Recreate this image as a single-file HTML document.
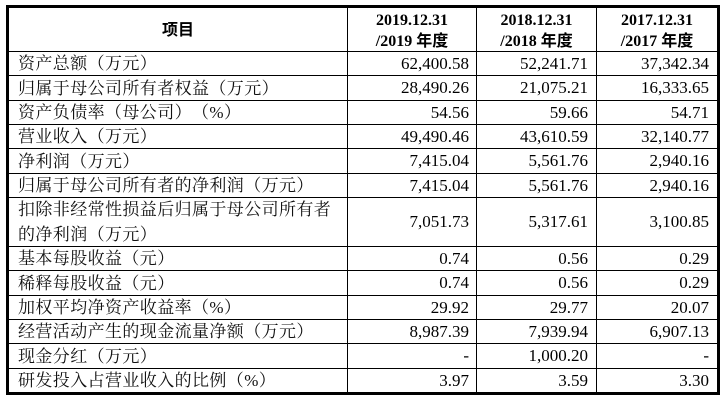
<!DOCTYPE html>
<html>
<head>
<meta charset="utf-8">
<style>
  html,body{margin:0;padding:0;background:#fff;}
  body{width:728px;height:403px;position:relative;overflow:hidden;}
  .box{position:absolute;left:6px;top:5px;width:708px;height:384px;border:3px solid #000;}
  .h{position:absolute;left:9px;width:708px;height:1px;background:#000;}
  .v{position:absolute;top:8px;height:384px;width:1px;background:#000;}
  .lab{position:absolute;left:18px;width:328px;display:flex;align-items:center;
       font-family:"Liberation Serif","Noto Serif CJK SC",serif;font-size:17px;letter-spacing:0.4px;color:#111;white-space:nowrap;line-height:25px;
       text-spacing-trim:space-all;}
  .num{position:absolute;display:flex;align-items:center;justify-content:flex-end;
       font-family:"Liberation Serif","Noto Serif CJK SC",serif;font-size:17px;color:#000;white-space:nowrap;}
  .c2{left:348px;width:121px;}
  .c3{left:477px;width:111px;}
  .c4{left:597px;width:112px;}
  .hd{position:absolute;top:8px;height:43px;display:flex;flex-direction:column;align-items:center;justify-content:center;
      font-family:"Liberation Serif","Noto Sans CJK SC",sans-serif;font-weight:bold;font-size:16px;line-height:21px;color:#000;white-space:nowrap;padding-top:2px;box-sizing:border-box;}
</style>
</head>
<body>
<div class="box"></div>

<div class="v" style="left:347px"></div>
<div class="v" style="left:476px"></div>
<div class="v" style="left:596px"></div>

<div class="h" style="top:51px"></div>
<div class="h" style="top:75px"></div>
<div class="h" style="top:100px"></div>
<div class="h" style="top:124px"></div>
<div class="h" style="top:148px"></div>
<div class="h" style="top:173px"></div>
<div class="h" style="top:197px"></div>
<div class="h" style="top:246px"></div>
<div class="h" style="top:270px"></div>
<div class="h" style="top:295px"></div>
<div class="h" style="top:319px"></div>
<div class="h" style="top:343px"></div>
<div class="h" style="top:368px"></div>

<div class="hd" style="left:9px;width:338px;">项目</div>
<div class="hd" style="left:348px;width:128px;"><div>2019.12.31</div><div>/2019 年度</div></div>
<div class="hd" style="left:477px;width:119px;"><div>2018.12.31</div><div>/2018 年度</div></div>
<div class="hd" style="left:597px;width:120px;"><div>2017.12.31</div><div>/2017 年度</div></div>

<div class="lab" style="top:52px;height:23px;">资产总额（万元）</div>
<div class="num c2" style="top:52px;height:23px;">62,400.58</div>
<div class="num c3" style="top:52px;height:23px;">52,241.71</div>
<div class="num c4" style="top:52px;height:23px;">37,342.34</div>

<div class="lab" style="top:76px;height:24px;">归属于母公司所有者权益（万元）</div>
<div class="num c2" style="top:76px;height:24px;">28,490.26</div>
<div class="num c3" style="top:76px;height:24px;">21,075.21</div>
<div class="num c4" style="top:76px;height:24px;">16,333.65</div>

<div class="lab" style="top:101px;height:23px;">资产负债率（母公司）（%）</div>
<div class="num c2" style="top:101px;height:23px;">54.56</div>
<div class="num c3" style="top:101px;height:23px;">59.66</div>
<div class="num c4" style="top:101px;height:23px;">54.71</div>

<div class="lab" style="top:125px;height:23px;">营业收入（万元）</div>
<div class="num c2" style="top:125px;height:23px;">49,490.46</div>
<div class="num c3" style="top:125px;height:23px;">43,610.59</div>
<div class="num c4" style="top:125px;height:23px;">32,140.77</div>

<div class="lab" style="top:149px;height:24px;">净利润（万元）</div>
<div class="num c2" style="top:149px;height:24px;">7,415.04</div>
<div class="num c3" style="top:149px;height:24px;">5,561.76</div>
<div class="num c4" style="top:149px;height:24px;">2,940.16</div>

<div class="lab" style="top:174px;height:23px;">归属于母公司所有者的净利润（万元）</div>
<div class="num c2" style="top:174px;height:23px;">7,415.04</div>
<div class="num c3" style="top:174px;height:23px;">5,561.76</div>
<div class="num c4" style="top:174px;height:23px;">2,940.16</div>

<div class="lab" style="top:198px;height:48px;">扣除非经常性损益后归属于母公司所有者<br>的净利润（万元）</div>
<div class="num c2" style="top:198px;height:48px;">7,051.73</div>
<div class="num c3" style="top:198px;height:48px;">5,317.61</div>
<div class="num c4" style="top:198px;height:48px;">3,100.85</div>

<div class="lab" style="top:247px;height:23px;">基本每股收益（元）</div>
<div class="num c2" style="top:247px;height:23px;">0.74</div>
<div class="num c3" style="top:247px;height:23px;">0.56</div>
<div class="num c4" style="top:247px;height:23px;">0.29</div>

<div class="lab" style="top:271px;height:24px;">稀释每股收益（元）</div>
<div class="num c2" style="top:271px;height:24px;">0.74</div>
<div class="num c3" style="top:271px;height:24px;">0.56</div>
<div class="num c4" style="top:271px;height:24px;">0.29</div>

<div class="lab" style="top:296px;height:23px;">加权平均净资产收益率（%）</div>
<div class="num c2" style="top:296px;height:23px;">29.92</div>
<div class="num c3" style="top:296px;height:23px;">29.77</div>
<div class="num c4" style="top:296px;height:23px;">20.07</div>

<div class="lab" style="top:320px;height:23px;">经营活动产生的现金流量净额（万元）</div>
<div class="num c2" style="top:320px;height:23px;">8,987.39</div>
<div class="num c3" style="top:320px;height:23px;">7,939.94</div>
<div class="num c4" style="top:320px;height:23px;">6,907.13</div>

<div class="lab" style="top:344px;height:24px;">现金分红（万元）</div>
<div class="num c2" style="top:344px;height:24px;">-</div>
<div class="num c3" style="top:344px;height:24px;">1,000.20</div>
<div class="num c4" style="top:344px;height:24px;">-</div>

<div class="lab" style="top:369px;height:23px;">研发投入占营业收入的比例（%）</div>
<div class="num c2" style="top:369px;height:23px;">3.97</div>
<div class="num c3" style="top:369px;height:23px;">3.59</div>
<div class="num c4" style="top:369px;height:23px;">3.30</div>
</body>
</html>
